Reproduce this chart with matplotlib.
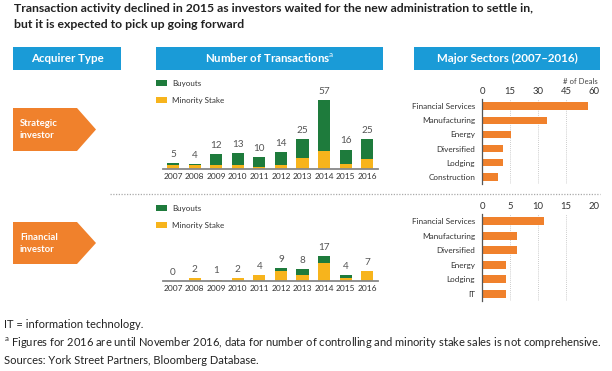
import matplotlib
matplotlib.use("Agg")
import matplotlib.pyplot as plt
from matplotlib.patches import Rectangle, Polygon

plt.rcParams['font.family'] = ['Lato', 'DejaVu Sans']
plt.rcParams['mathtext.fontset'] = 'custom'
plt.rcParams['mathtext.rm'] = 'Lato'

# data
years = ['2007', '2008', '2009', '2010', '2011', '2012', '2013', '2014', '2015', '2016']
strat_minority = [3, 3, 3, 3, 2, 3, 9, 15, 4, 8]
strat_buyouts = [2, 1, 9, 10, 8, 11, 16, 42, 12, 17]
fin_minority = [0, 2, 1, 2, 4, 7, 4, 12, 2, 7]
fin_buyouts = [0, 0, 0, 0, 0, 2, 4, 5, 2, 0]

strat_sectors = ['Financial Services', 'Manufacturing', 'Energy', 'Diversified', 'Lodging', 'Construction']
strat_deals = [57, 35, 15.5, 11, 11, 8.7]
strat_ticks = [0, 15, 30, 45, 60]
fin_sectors = ['Financial Services', 'Manufacturing', 'Diversified', 'Energy', 'Lodging', 'IT']
fin_deals = [11, 6.2, 6.2, 4.2, 4.2, 4.2]
fin_ticks = [0, 5, 10, 15, 20]

GREEN = '#1e7b3c'
YELLOW = '#f7b41c'
ORANGE = '#f0812c'
BLUE = '#1a9bd7'
GREY = '#555555'

W, H = 612, 371
fig = plt.figure(figsize=(W / 100, H / 100), dpi=100)


def px(x0, y0, x1, y1):
    # pixel box (top-left origin) -> figure rect
    return [x0 / W, 1 - y1 / H, (x1 - x0) / W, (y1 - y0) / H]


def fx(x):
    return x / W


def fy(y):
    return 1 - y / H


# title
fig.text(fx(14), fy(9), 'Transaction activity declined in 2015 as investors waited for the new administration to settle in,',
         fontsize=8.8, fontweight='bold', color='#222222', va='center')
fig.text(fx(14), fy(25), 'but it is expected to pick up going forward',
         fontsize=8.8, fontweight='bold', color='#222222', va='center')

# header boxes
headers = [(13, 121, 'Acquirer Type'), (156, 383, 'Number of Transactions$^{\\mathrm{a}}$'),
           (414, 600, 'Major Sectors (2007\u20132016)')]
for x0, x1, txt in headers:
    fig.patches.append(Rectangle((fx(x0), fy(70)), (x1 - x0) / W, 23 / H, transform=fig.transFigure,
                                 facecolor=BLUE, edgecolor='none'))
    fig.text(fx((x0 + x1) / 2), fy(58.5), txt, color='white', fontsize=8.3, fontweight='bold',
             ha='center', va='center')

# arrow labels
for ytop, ybot, l1, l2 in [(108, 151, 'Strategic', 'investor'), (222, 264, 'Financial', 'investor')]:
    ym = (ytop + ybot) / 2
    pts = [(fx(13), fy(ytop)), (fx(77), fy(ytop)), (fx(96), fy(ym)), (fx(77), fy(ybot)), (fx(13), fy(ybot))]
    fig.patches.append(Polygon(pts, closed=True, transform=fig.transFigure, facecolor=ORANGE, edgecolor='none'))
    fig.text(fx(20), fy(ym - 6), l1, color='white', fontsize=6.8, fontweight='bold', va='center')
    fig.text(fx(20), fy(ym + 6.5), l2, color='white', fontsize=6.8, fontweight='bold', va='center')

# separator
fig.add_artist(plt.Line2D([fx(110), fx(600)], [fy(194), fy(194)], transform=fig.transFigure,
                          color='#aaaaaa', lw=0.9, ls=(0, (1, 1.2))))


def bar_panel(rect, minority, buyouts, ymax, leg_y):
    ax = fig.add_axes(rect)
    x = list(range(len(years)))
    b1 = ax.bar(x, minority, width=0.56, color=YELLOW, label='Minority Stake')
    b2 = ax.bar(x, buyouts, width=0.56, bottom=minority, color=GREEN, label='Buyouts')
    for i in x:
        tot = minority[i] + buyouts[i]
        ax.annotate(str(tot), (i, tot), xytext=(0, 3), textcoords='offset points',
                    ha='center', va='bottom', fontsize=7.2, color=GREY)
    ax.set_xlim(-0.464, 9.5)
    ax.set_ylim(0, ymax)
    ax.set_xticks(x)
    ax.set_xticklabels(years)
    ax.tick_params(axis='x', length=0, pad=3, labelsize=6.0, labelcolor='#333333')
    ax.set_yticks([])
    for s in ['top', 'right', 'left']:
        ax.spines[s].set_visible(False)
    ax.spines['bottom'].set_color('#888888')
    ax.spines['bottom'].set_linewidth(1.3)
    ax.patch.set_alpha(0)
    ax.legend([b2, b1], ['Buyouts', 'Minority Stake'], loc='upper left',
              bbox_to_anchor=(fx(156), fy(leg_y)), bbox_transform=fig.transFigure,
              frameon=False, fontsize=5.8, handlelength=1.4, handleheight=0.75,
              labelspacing=1.25, handletextpad=0.6, borderaxespad=0, borderpad=0,
              labelcolor='#333333')
    return ax


bar_panel(px(163, 80, 378, 169), strat_minority, strat_buyouts, 89 / 1.21, 80)
bar_panel(px(163, 236, 378, 281), fin_minority, fin_buyouts, 45 / 1.47, 205)


def sector_panel(rect, cats, vals, ticks):
    ax = fig.add_axes(rect)
    y = list(range(len(cats)))
    ax.barh(y, vals, height=0.52, color=ORANGE)
    ax.set_ylim(len(cats) - 0.5, -0.5)
    ax.set_xlim(ticks[0], ticks[-1])
    ax.set_xticks(ticks)
    ax.xaxis.tick_top()
    ax.tick_params(axis='x', length=0, pad=2, labelsize=6.8, labelcolor='#333333')
    ax.set_yticks(y)
    ax.set_yticklabels(cats)
    ax.tick_params(axis='y', length=0, pad=5, labelsize=5.9, labelcolor='#333333')
    ax.grid(axis='x', color='#bbbbbb', lw=0.6, ls=(0, (1, 1.5)))
    ax.set_axisbelow(True)
    for s in ['top', 'right', 'bottom']:
        ax.spines[s].set_visible(False)
    ax.spines['left'].set_color('#555555')
    ax.spines['left'].set_linewidth(0.9)
    ax.patch.set_alpha(0)
    return ax


sector_panel(px(482, 99, 594, 184), strat_sectors, strat_deals, strat_ticks)
sector_panel(px(482, 214, 594, 301), fin_sectors, fin_deals, fin_ticks)
fig.text(fx(598), fy(81), '# of Deals', fontsize=5.6, color='#444444', ha='right', va='center')

# footnotes
fig.text(fx(4), fy(325), 'IT = information technology.', fontsize=8.0, color='#222222', va='center')
fig.text(fx(4), fy(343), '$^{\\mathrm{a}}$ Figures for 2016 are until November 2016, data for number of controlling and minority stake sales is not comprehensive.',
         fontsize=8.0, color='#222222', va='center')
fig.text(fx(4), fy(360), 'Sources: York Street Partners, Bloomberg Database.', fontsize=8.0, color='#222222', va='center')

fig.savefig('out.png', dpi=100)
